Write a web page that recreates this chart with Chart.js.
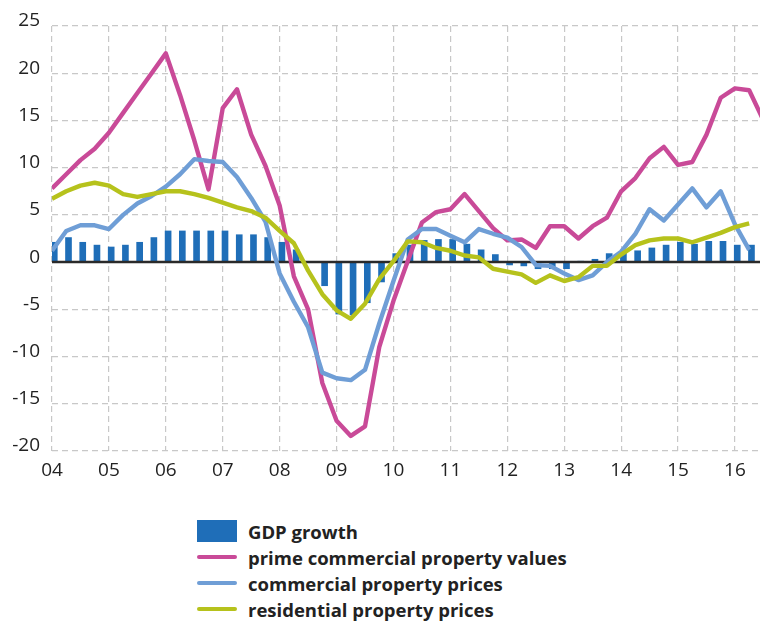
<!DOCTYPE html>
<html>
<head>
<meta charset="utf-8">
<title>GDP growth and property prices</title>
<script src="https://cdn.jsdelivr.net/npm/chart.js@4.4.1/dist/chart.umd.min.js"></script>
<style>
    body { margin: 0; background: #fff; font-family: "Open Sans", sans-serif; }
    #wrap { position: relative; width: 760px; height: 622px; overflow: hidden; }
    #chart-box { position: absolute; left: 0; top: 0; width: 760px; height: 482px; }
    #legend { position: absolute; left: 197px; top: 518px; }
    .legend-row { display: flex; align-items: center; height: 26px; }
    .legend-mark { width: 40px; margin-right: 11px; display: flex; align-items: center; justify-content: center; }
    .legend-text { font-weight: 700; font-size: 18.5px; color: #222; white-space: nowrap; }
</style>
</head>
<body>
<div id="wrap">
    <div id="chart-box"><canvas id="chart"></canvas></div>
    <div id="legend"></div>
</div>
<script>
    "use strict";

    // quarterly data, 2004 Q1 onwards (% change)
    const startYear = 2004;
    const yearLabels = ['04', '05', '06', '07', '08', '09', '10', '11', '12', '13', '14', '15', '16'];

    const gdpGrowth = [
        2.1, 2.6, 2.1, 1.8, 1.6, 1.8, 2.1, 2.6, 3.3, 3.3, 3.3, 3.3, 3.3,
        2.9, 2.9, 2.6, 2.1, 1.3, 0.0, -2.5, -5.5, -5.6, -4.3, -2.1, 0.9,
        1.8, 2.3, 2.4, 2.4, 1.9, 1.3, 0.8, -0.3, -0.4, -0.7, -0.7, -0.7,
        0.1, 0.3, 0.9, 1.0, 1.2, 1.5, 1.8, 2.1, 1.9, 2.2, 2.2, 1.8, 1.8
    ];
    const primeValues = [
        7.8, 9.3, 10.8, 12.0, 13.7, 15.8, 17.9, 20.0, 22.1, 17.7, 12.9, 7.7, 16.3,
        18.3, 13.5, 10.2, 6.0, -1.5, -5.0, -12.8, -16.8, -18.4, -17.4, -9.0, -4.1,
        0.1, 4.2, 5.3, 5.6, 7.2, 5.4, 3.6, 2.3, 2.4, 1.5, 3.8, 3.8,
        2.5, 3.8, 4.7, 7.5, 8.9, 11.0, 12.2, 10.3, 10.6, 13.5, 17.4, 18.4, 18.2, 15.0
    ];
    const commercialPrices = [
        1.2, 3.3, 3.9, 3.9, 3.5, 5.0, 6.2, 7.0, 8.0, 9.3, 10.9, 10.7, 10.6,
        9.0, 6.8, 4.3, -1.2, -4.2, -6.9, -11.7, -12.3, -12.5, -11.4, -6.5, -2.0,
        2.4, 3.5, 3.5, 2.8, 2.1, 3.5, 3.0, 2.6, 1.6, -0.3, -0.4, -1.2,
        -1.9, -1.4, 0.0, 1.1, 3.0, 5.6, 4.4, 6.1, 7.8, 5.8, 7.5, 4.0, 1.3
    ];
    const residentialPrices = [
        6.7, 7.5, 8.1, 8.4, 8.1, 7.2, 6.9, 7.2, 7.5, 7.5, 7.2, 6.8, 6.3,
        5.8, 5.4, 4.7, 3.3, 2.0, -0.9, -3.4, -5.1, -6.0, -4.4, -1.8, 0.1,
        2.2, 2.1, 1.5, 1.2, 0.7, 0.5, -0.7, -1.0, -1.3, -2.2, -1.4, -2.0,
        -1.6, -0.4, -0.4, 0.8, 1.8, 2.3, 2.5, 2.5, 2.1, 2.6, 3.1, 3.7, 4.1
    ];

    const quarterX = i => startYear + i / 4;
    const toPoints = (arr, shift) => arr.map((v, i) => ({ x: quarterX(i) + (shift || 0), y: v }));

    // Solid zero line, drawn over the bars but under the lines
    const zeroLine = {
        id: 'zeroLine',
        afterDatasetDraw(chart, args) {
            if (args.index !== 0) return;
            const { ctx, chartArea, scales } = chart;
            const y = scales.y.getPixelForValue(0);
            ctx.save();
            ctx.strokeStyle = '#2a2a2a';
            ctx.lineWidth = 2.5;
            ctx.beginPath();
            ctx.moveTo(chartArea.left, y);
            ctx.lineTo(chartArea.right, y);
            ctx.stroke();
            ctx.restore();
        }
    };

    const lineStyle = {
        type: 'line',
        borderWidth: 4.4,
        pointRadius: 0,
        tension: 0,
        borderJoinStyle: 'round',
        fill: false
    };

    const tickFont = { family: '"Open Sans", sans-serif', size: 19 };

    const chart = new Chart(document.getElementById('chart'), {
        type: 'bar',
        data: {
            datasets: [{
                label: 'GDP growth',
                data: toPoints(gdpGrowth, 0.04),
                backgroundColor: '#1f6eb8',
                barThickness: 6,
                order: 4
            },
            Object.assign({}, lineStyle, {
                label: 'prime commercial property values',
                data: toPoints(primeValues),
                borderColor: '#c94a98',
                backgroundColor: '#c94a98',
                order: 3
            }),
            Object.assign({}, lineStyle, {
                label: 'commercial property prices',
                data: toPoints(commercialPrices),
                borderColor: '#6f9ed6',
                backgroundColor: '#6f9ed6',
                order: 2
            }),
            Object.assign({}, lineStyle, {
                label: 'residential property prices',
                data: toPoints(residentialPrices),
                borderColor: '#b6c21c',
                backgroundColor: '#b6c21c',
                order: 1
            })]
        },
        options: {
            responsive: true,
            maintainAspectRatio: false,
            animation: false,
            layout: { padding: { top: 26, right: 0, left: 0, bottom: 0 } },
            plugins: {
                legend: { display: false },
                tooltip: { enabled: false }
            },
            scales: {
                x: {
                    type: 'linear',
                    offset: false,
                    min: startYear,
                    max: 2016.44,
                    afterFit: scale => { scale.height = 31; },
                    grid: { color: '#c8c8c8', lineWidth: 1.2, drawTicks: false, offset: false },
                    border: { display: false, dash: [6, 4] },
                    ticks: {
                        stepSize: 1,
                        includeBounds: false,
                        autoSkip: false,
                        maxRotation: 0,
                        padding: 8,
                        color: '#222',
                        font: tickFont,
                        callback: v => yearLabels[Math.round(v - startYear)]
                    }
                },
                y: {
                    min: -20,
                    max: 25,
                    afterFit: scale => { scale.width = 52; },
                    grid: {
                        color: c => (c.tick && c.tick.value === 0) ? 'rgba(0,0,0,0)' : '#c8c8c8',
                        lineWidth: 1.2,
                        drawTicks: false
                    },
                    border: { display: false, dash: [6, 4] },
                    ticks: {
                        stepSize: 5,
                        padding: 12,
                        labelOffset: -5,
                        color: '#222',
                        font: tickFont
                    }
                }
            }
        },
        plugins: [zeroLine]
    });

    // Legend, one item per row
    const legend = document.getElementById('legend');
    chart.data.datasets.forEach(ds => {
        const row = document.createElement('div');
        row.className = 'legend-row';
        const mark = document.createElement('div');
        mark.className = 'legend-mark';
        const swatch = document.createElement('div');
        if (ds.type === 'line') {
            swatch.style.cssText = 'width:40px;height:4px;border-radius:2px;background:' + ds.borderColor;
        } else {
            swatch.style.cssText = 'width:40px;height:22px;background:' + ds.backgroundColor;
        }
        mark.appendChild(swatch);
        const text = document.createElement('span');
        text.className = 'legend-text';
        text.textContent = ds.label;
        row.appendChild(mark);
        row.appendChild(text);
        legend.appendChild(row);
    });
</script>
</body>
</html>
